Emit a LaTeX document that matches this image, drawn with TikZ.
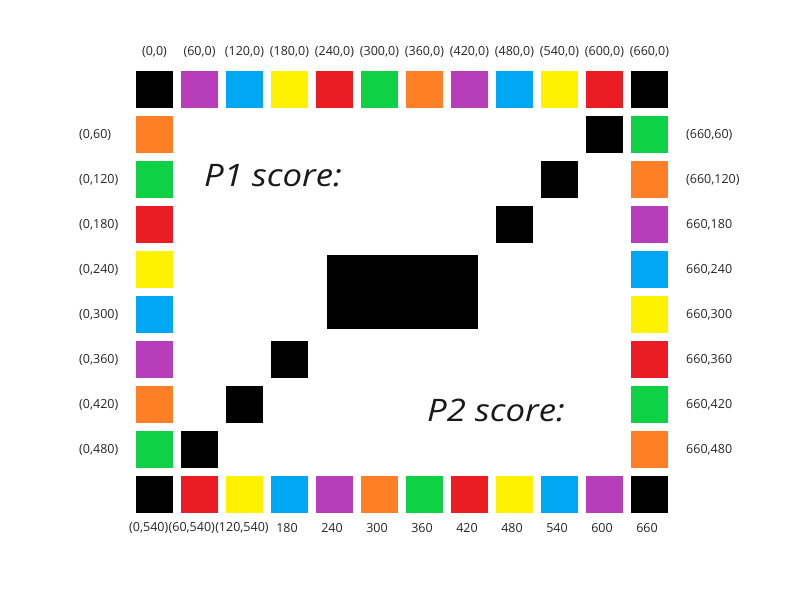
\documentclass[tikz,border=0pt]{standalone}
\usepackage{fontspec}
\setmainfont{Open Sans}
\newfontfamily\scorefont{Open Sans}
\definecolor{cblack}{HTML}{000000}
\definecolor{cpurple}{HTML}{B83DBA}
\definecolor{cblue}{HTML}{00A8F3}
\definecolor{cyellow}{HTML}{FFF200}
\definecolor{cred}{HTML}{EC1C24}
\definecolor{cgreen}{HTML}{0ED145}
\definecolor{corange}{HTML}{FF7F27}
\begin{document}
\begin{tikzpicture}[x=1pt,y=-1pt,
  sq/.style={rectangle,inner sep=0pt,minimum size=37pt,anchor=north west,draw=none},
  lbl/.style={inner sep=0pt,font=\fontsize{12.5}{14}\selectfont,text=black!85},
  score/.style={inner sep=0pt,anchor=base west,font=\scorefont\itshape\fontsize{31}{36}\selectfont,text=black!90}]
\useasboundingbox (0,0) rectangle (800,600);
\fill[white] (0,0) rectangle (800,600);
% top row
\foreach \c [count=\i from 0] in {cblack,cpurple,cblue,cyellow,cred,cgreen,corange,cpurple,cblue,cyellow,cred,cblack}{
  \node[sq,fill=\c] (t\i) at ({136+45*\i},71) {};
}
% bottom row
\foreach \c [count=\i from 0] in {cblack,cred,cyellow,cblue,cpurple,corange,cgreen,cred,cyellow,cblue,cpurple,cblack}{
  \node[sq,fill=\c] (b\i) at ({136+45*\i},476) {};
}
% left column
\foreach \c [count=\j from 1] in {corange,cgreen,cred,cyellow,cblue,cpurple,corange,cgreen}{
  \node[sq,fill=\c] (l\j) at (136,{71+45*\j}) {};
}
% right column
\foreach \c [count=\j from 1] in {cgreen,corange,cpurple,cblue,cyellow,cred,cgreen,corange}{
  \node[sq,fill=\c] (r\j) at (631,{71+45*\j}) {};
}
% inner black squares
\node[sq,fill=black] (k1) at (586,116) {};
\node[sq,fill=black] (k2) at (541,161) {};
\node[sq,fill=black] (k3) at (496,206) {};
\node[sq,fill=black] (k4) at (271,341) {};
\node[sq,fill=black] (k5) at (226,386) {};
\node[sq,fill=black] (k6) at (181,431) {};
% big black block
\node[rectangle,inner sep=0pt,minimum width=151pt,minimum height=74pt,anchor=north west,fill=black] (big) at (327,255) {};
% top labels
\foreach \t [count=\i from 0] in {(0{,}0),(60{,}0),(120{,}0),(180{,}0),(240{,}0),(300{,}0),(360{,}0),(420{,}0),(480{,}0),(540{,}0),(600{,}0),(660{,}0)}{
  \node[lbl] (tl\i) at ({154.5+45*\i},52) {\t};
}
% left labels
\foreach \t [count=\j from 1] in {(0{,}60),(0{,}120),(0{,}180),(0{,}240),(0{,}300),(0{,}360),(0{,}420),(0{,}480)}{
  \node[lbl,anchor=west] (ll\j) at (79,{90+45*\j}) {\t};
}
% right labels
\foreach \t [count=\j from 1] in {(660{,}60),(660{,}120),660{,}180,660{,}240,660{,}300,660{,}360,660{,}420,660{,}480}{
  \node[lbl,anchor=west] (rl\j) at (686,{90+45*\j}) {\t};
}
% bottom labels
\node[lbl,anchor=west] (bl0) at (129,528) {(0,540)};
\node[lbl,anchor=west] (bl1) at (bl0.east) {(60,540)};
\node[lbl,anchor=west] (bl2) at (bl1.east) {(120,540)};
\foreach \t [count=\i from 3] in {180,240,300,360,420,480,540,600,660}{
  \node[lbl] (bl\i) at ({152+45*\i},528) {\t};
}
% scores
\node[score] (p1) at (204,186) {\scalebox{1.12}[1]{P1 score:}};
\node[score] (p2) at (427,421) {\scalebox{1.12}[1]{P2 score:}};
\end{tikzpicture}
\end{document}
